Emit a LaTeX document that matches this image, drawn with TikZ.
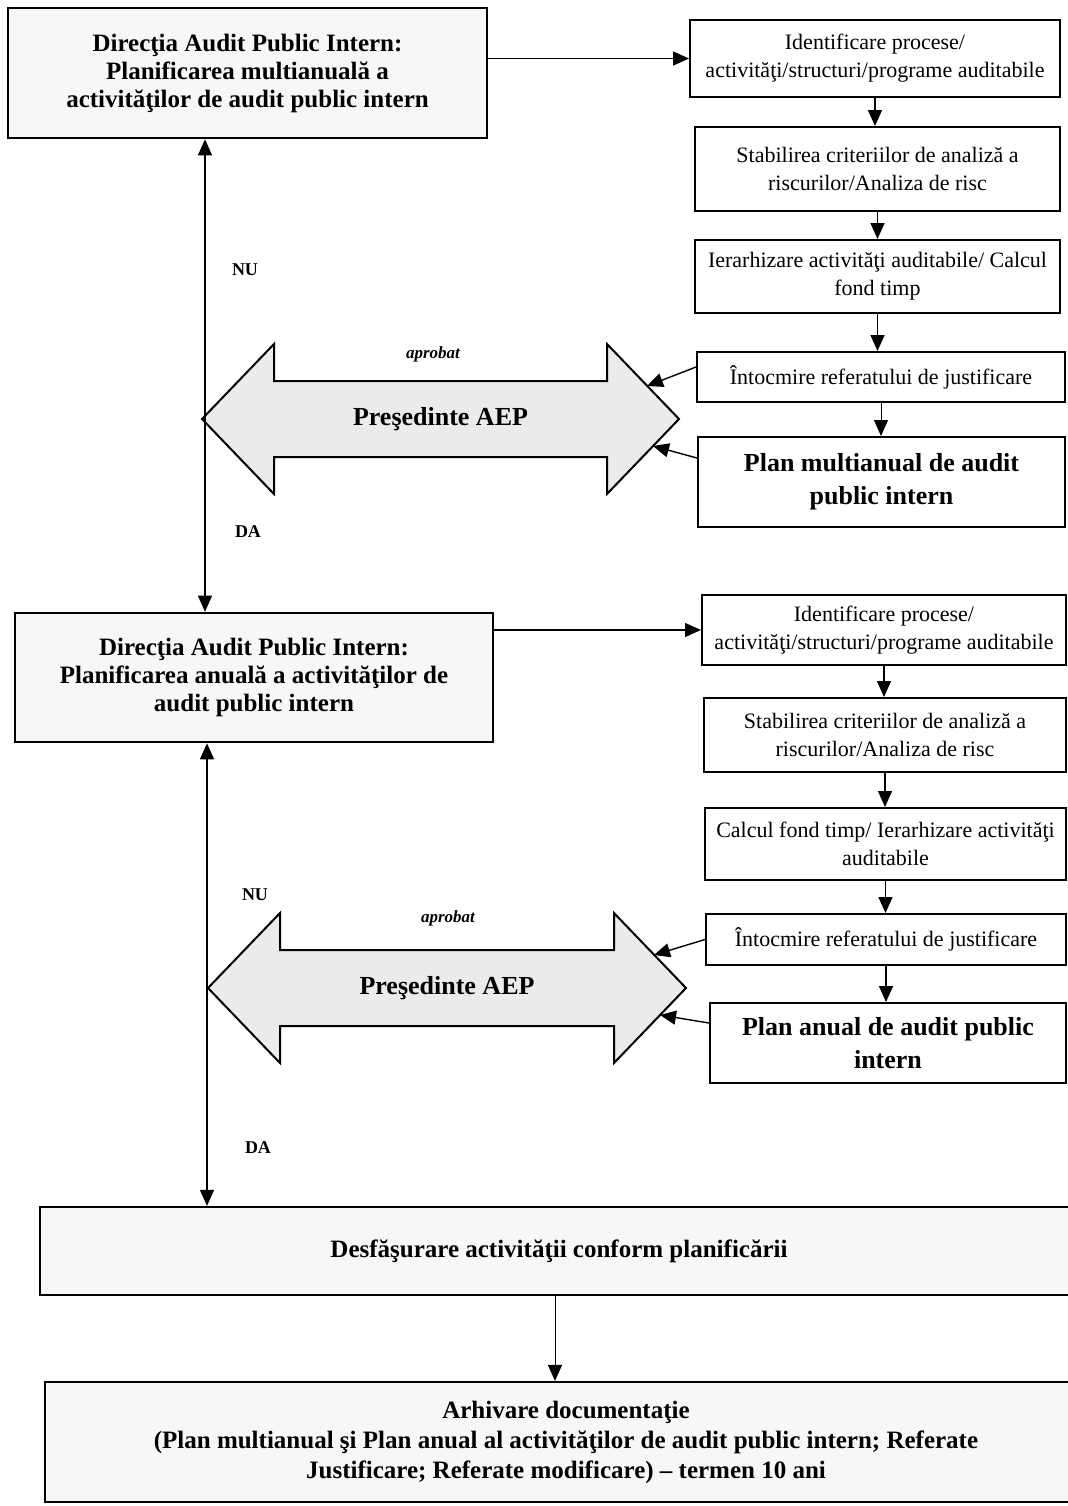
\documentclass[tikz,border=0pt]{standalone}
\usepackage{fontspec}
\setmainfont{Liberation Serif}
\usetikzlibrary{arrows.meta}
\tikzset{
  bigbox/.style={draw, line width=1.3pt, fill=gray!6, align=center, inner sep=0pt, font=\bfseries\fontsize{12.5}{14}\selectfont},
  stepbox/.style={draw, line width=1pt, fill=white, align=center, inner sep=0pt, font=\fontsize{11}{14}\selectfont},
  planbox/.style={stepbox, font=\bfseries\fontsize{13}{16.5}\selectfont},
  endbox/.style={bigbox, line width=1.1pt, font=\bfseries\fontsize{12.5}{15}\selectfont},
  arr/.style={-{Triangle[length=8pt,width=7pt]}, line width=0.7pt},
  dbl/.style={{Triangle[length=8pt,width=7pt]}-{Triangle[length=8pt,width=7pt]}, line width=0.7pt},
  yesno/.style={font=\bfseries\fontsize{9}{10}\selectfont},
  okstyle/.style={font=\bfseries\itshape\fontsize{8.5}{10}\selectfont}
}
\newcommand{\cellnode}[7]{\node[#1, minimum width={(#5-#3)*0.5pt}, minimum height={(#6-#4)*0.5pt}] (#2) at ({(#3+#5)/2},{(#4+#6)/2}) {#7};}
\newcommand{\presarrow}[4]{\draw[line width=1pt, fill=gray!16] (#3,#2) -- ({#3+72},{#2-75}) -- ({#3+72},{#2-38}) -- ({#4-72},{#2-38}) -- ({#4-72},{#2-75}) -- (#4,#2) -- ({#4-72},{#2+75}) -- ({#4-72},{#2+38}) -- ({#3+72},{#2+38}) -- ({#3+72},{#2+75}) -- cycle;
  \node[font=\bfseries\fontsize{13}{15}\selectfont] (#1) at ({(#3+#4)/2},#2) {Preşedinte AEP};
  \coordinate (#1in1) at ({#4-32},{#2-33});
  \coordinate (#1in2) at ({#4-26},{#2+27});}

\begin{document}
\begin{tikzpicture}[x=0.5pt, y=-0.5pt]
\useasboundingbox (0,0) rectangle (1068,1506);
\clip (0,0) rectangle (1068,1506);

% planificare multianuala
\cellnode{bigbox}{dir1}{8}{8}{487}{138}{Direcţia Audit Public Intern:\\ Planificarea multianuală a\\ activităţilor de audit public intern}
\cellnode{stepbox}{id1}{690}{20}{1060}{97}{Identificare procese/\\ activităţi/structuri/programe auditabile}
\cellnode{stepbox}{risc1}{695}{127}{1060}{211}{Stabilirea criteriilor de analiză a\\ riscurilor/Analiza de risc}
\cellnode{stepbox}{ier1}{695}{240}{1060}{313}{Ierarhizare activităţi auditabile/ Calcul\\ fond timp}
\cellnode{stepbox}{ref1}{697}{352}{1065}{402}{Întocmire referatului de justificare}
\cellnode{planbox}{plan1}{698}{437}{1065}{527}{Plan multianual de audit\\ public intern}
\presarrow{pres1}{419}{202}{679}
\node[okstyle] (ok1) at (433,354) {aprobat};
\node[yesno] (nu1) at (245,270) {NU};
\node[yesno] (da1) at (248,532) {DA};

% planificare anuala
\cellnode{bigbox}{dir2}{15}{613}{493}{742}{Direcţia Audit Public Intern:\\ Planificarea anuală a activităţilor de\\ audit public intern}
\cellnode{stepbox}{id2}{702}{595}{1066}{665}{Identificare procese/\\ activităţi/structuri/programe auditabile}
\cellnode{stepbox}{risc2}{704}{698}{1066}{772}{Stabilirea criteriilor de analiză a\\ riscurilor/Analiza de risc}
\cellnode{stepbox}{ier2}{705}{808}{1066}{880}{Calcul fond timp/ Ierarhizare activităţi\\ auditabile}
\cellnode{stepbox}{ref2}{706}{914}{1066}{965}{Întocmire referatului de justificare}
\cellnode{planbox}{plan2}{710}{1003}{1066}{1083}{Plan anual de audit public\\ intern}
\presarrow{pres2}{988}{208}{686}
\node[okstyle] (ok2) at (448,918) {aprobat};
\node[yesno] (nu2) at (255,895) {NU};
\node[yesno] (da2) at (258,1148) {DA};

% desfasurare si arhivare
\cellnode{endbox}{desf}{40}{1207}{1078}{1295}{Desfăşurare activităţii conform planificării}
\cellnode{endbox}{arh}{45}{1382}{1087}{1502}{Arhivare documentaţie\\ (Plan multianual şi Plan anual al activităţilor de audit public intern; Referate\\ Justificare; Referate modificare) -- termen 10 ani}

\coordinate (lt1) at (205,0);
\coordinate (lt2) at (207,0);
\coordinate (lt3) at (555,0);

% legaturi
\draw[arr] (dir1.east |- id1.west) -- (id1.west);
\draw[arr] (id1.south) -- (id1.south |- risc1.north);
\draw[arr] (risc1.south) -- (risc1.south |- ier1.north);
\draw[arr] (ier1.south) -- (ier1.south |- ref1.north);
\draw[arr, line width=0.5pt] (ref1.south) -- (ref1.south |- plan1.north);
\draw[arr] ([yshift=5pt]ref1.west) -- (pres1in1);
\draw[arr] ([yshift=12pt]plan1.west) -- (pres1in2);
\draw[dbl] (dir1.south -| lt1) -- (dir2.north -| lt1);

\draw[arr] (dir2.east |- id2.west) -- (id2.west);
\draw[arr] (id2.south) -- (id2.south |- risc2.north);
\draw[arr] (risc2.south) -- (risc2.south |- ier2.north);
\draw[arr] (ier2.south) -- (ier2.south |- ref2.north);
\draw[arr] (ref2.south) -- (ref2.south |- plan2.north);
\draw[arr] (ref2.west) -- (pres2in1);
\draw[arr] ([yshift=10pt]plan2.west) -- (pres2in2);
\draw[dbl] (dir2.south -| lt2) -- (desf.north -| lt2);

\draw[arr, line width=0.5pt] (desf.south -| lt3) -- (arh.north -| lt3);
\end{tikzpicture}
\end{document}
